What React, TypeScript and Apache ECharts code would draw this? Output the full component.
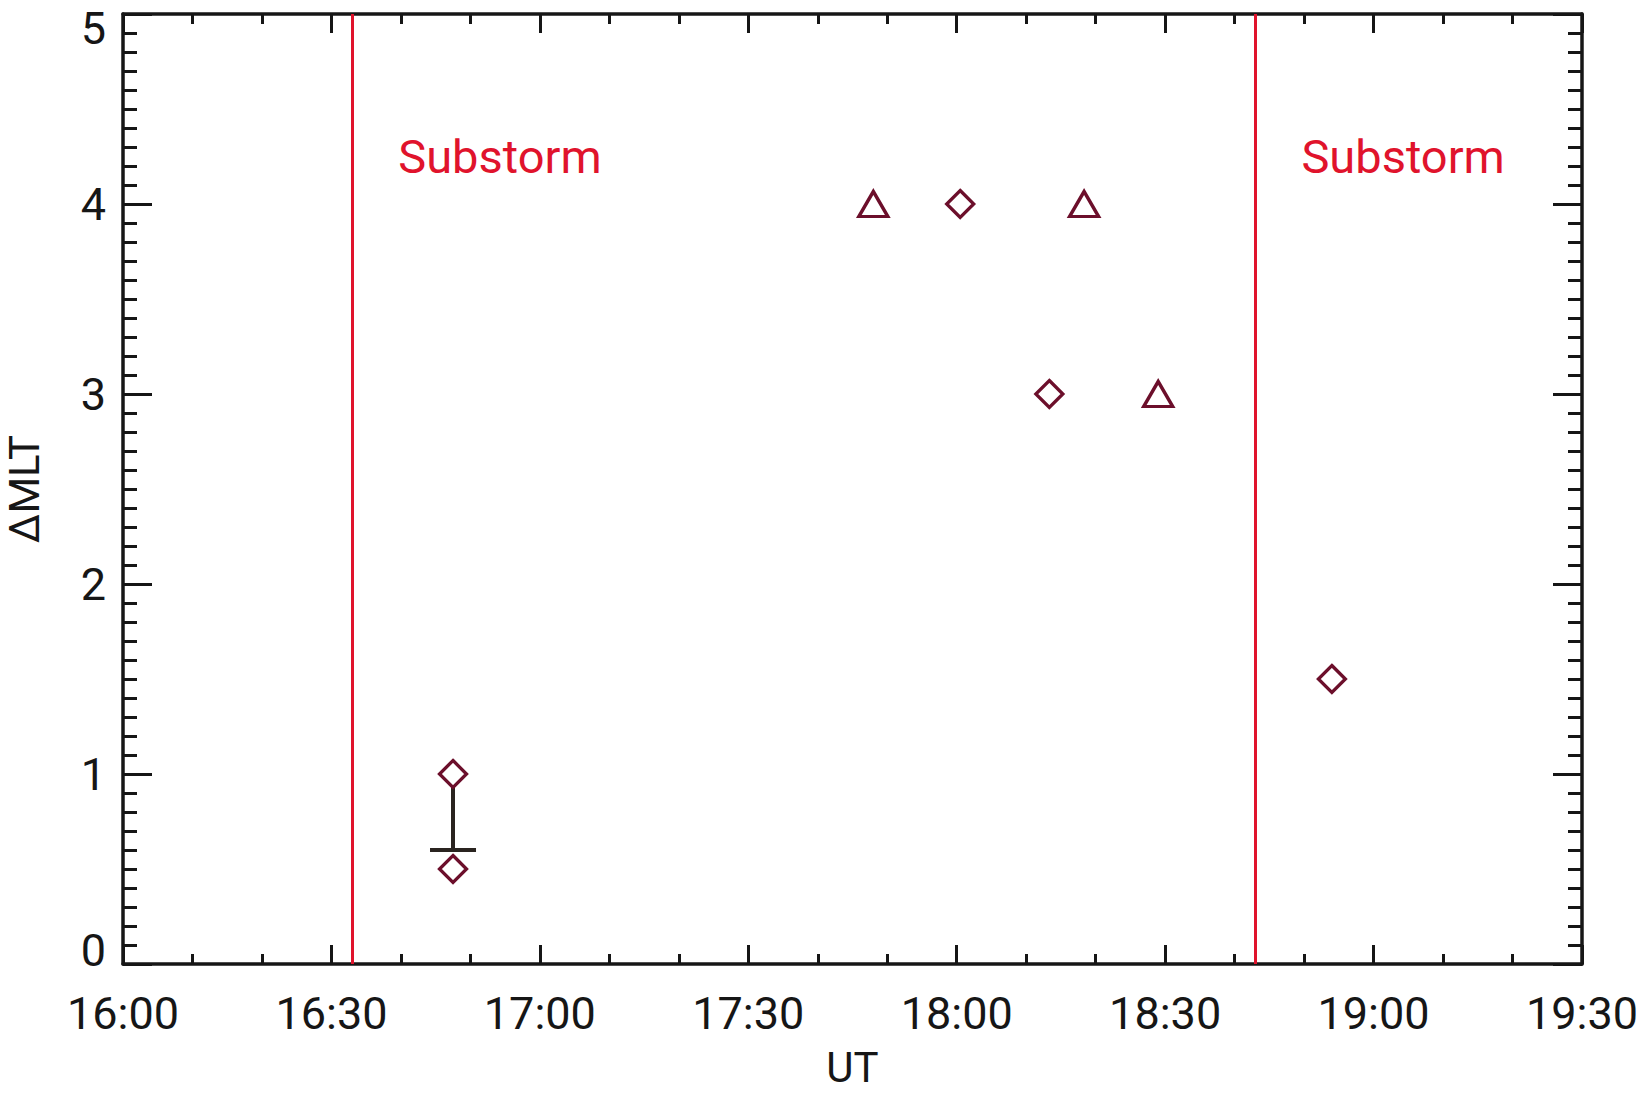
import React, { useEffect, useRef } from "react";
import * as echarts from "echarts";

// ---- data ----
const diamondTimes = ["16:47:30", "16:47:30", "18:00:30", "18:13:20", "18:54:00"];
const diamondValues = [1.0, 0.5, 4.0, 3.0, 1.5];
const triangleTimes = ["17:48:00", "18:18:20", "18:29:00"];
const triangleValues = [4.0, 4.0, 3.0];
const errorBarTimes = ["16:47:30"];
const errorBarLow = [0.6];
const errorBarHigh = [1.0];
const substormTimes = ["16:33:00", "18:43:00"];
const substormLabels = ["Substorm", "Substorm"];
const substormLabelValue = 4.25;
const xStart = "16:00:00";
const xEnd = "19:30:00";
const xTickStepMinutes = 30;
const yMin = 0;
const yMax = 5;

const toMin = (s: string) => {
  const p = s.split(":").map(Number);
  return p[0] * 60 + p[1] + (p[2] || 0) / 60;
};
const fmt = (v: number) => {
  const h = Math.floor(v / 60);
  const m = Math.round(v - h * 60);
  return `${h}:${m < 10 ? "0" + m : m}`;
};

const INK = "#161616";
const MAROON = "#6c0f2b";
const RED = "#e0132c";
const FONT = "Roboto";

export default function App() {
  const ref = useRef<HTMLDivElement>(null);
  useEffect(() => {
    if (!ref.current) return;
    const chart = echarts.init(ref.current, undefined, { renderer: "svg" });
    const xMin = toMin(xStart);
    const xMax = toMin(xEnd);

    const commonX = {
      type: "value" as const,
      min: xMin,
      max: xMax,
      interval: xTickStepMinutes,
      axisLine: { show: true, onZero: false, lineStyle: { color: INK, width: 3.5 } },
      axisTick: { show: true, inside: true, length: 19, lineStyle: { color: INK, width: 3 } },
      minorTick: { show: true, splitNumber: 3, length: 10, lineStyle: { color: INK, width: 3 } },
      splitLine: { show: false },
      minorSplitLine: { show: false },
    };
    const commonY = {
      type: "value" as const,
      min: yMin,
      max: yMax,
      interval: 1,
      axisLine: { show: true, onZero: false, lineStyle: { color: INK, width: 3.5 } },
      axisTick: { show: true, inside: true, length: 29, lineStyle: { color: INK, width: 3 } },
      minorTick: { show: true, splitNumber: 10, length: 14, lineStyle: { color: INK, width: 3 } },
      splitLine: { show: false },
      minorSplitLine: { show: false },
    };

    chart.setOption({
      animation: false,
      backgroundColor: "#ffffff",
      grid: {
        left: 123,
        right: 67,
        top: 14,
        bottom: 131,
        containLabel: false,
        outerBoundsMode: "none",
      },
      xAxis: [
        {
          ...commonX,
          position: "bottom",
          axisLabel: {
            show: true,
            fontSize: 45,
            fontFamily: FONT,
            color: INK,
            margin: 27,
            formatter: (v: number) => fmt(v),
          },
          name: "UT",
          nameLocation: "middle",
          nameGap: 82,
          nameTextStyle: { fontSize: 42, fontFamily: FONT, color: INK },
        },
        { ...commonX, position: "top", axisLabel: { show: false } },
      ],
      yAxis: [
        {
          ...commonY,
          position: "left",
          axisLabel: {
            show: true,
            fontSize: 45,
            lineHeight: 28,
            fontFamily: FONT,
            color: INK,
            margin: 17,
            verticalAlignMinLabel: "bottom",
            verticalAlignMaxLabel: "top",
          },
          name: "ΔMLT",
          nameLocation: "middle",
          nameRotate: 90,
          nameGap: 78,
          nameTextStyle: { fontSize: 42, fontFamily: FONT, color: INK },
        },
        { ...commonY, position: "right", axisLabel: { show: false } },
      ],
      series: [
        {
          type: "scatter",
          data: [],
          markLine: {
            silent: true,
            symbol: "none",
            label: { show: false },
            lineStyle: { color: RED, width: 3, type: "solid", opacity: 1 },
            data: substormTimes.map((t) => ({ xAxis: toMin(t) })),
          },
          z: 1,
        },
        {
          type: "scatter",
          symbolSize: 0,
          itemStyle: { opacity: 1 },
          data: substormTimes.map((t, i) => ({
            value: [toMin(t), substormLabelValue],
            name: substormLabels[i],
          })),
          label: {
            show: true,
            position: "right",
            distance: 46,
            formatter: (p: any) => p.name,
            fontSize: 47,
            fontFamily: FONT,
            color: RED,
            opacity: 1,
          },
          z: 2,
        },
        {
          type: "custom",
          data: errorBarTimes.map((t, i) => [toMin(t), errorBarLow[i], errorBarHigh[i]]),
          renderItem: (params: any, api: any) => {
            const x = api.value(0);
            const lo = api.coord([x, api.value(1)]);
            const hi = api.coord([x, api.value(2)]);
            const half = 23;
            return {
              type: "group",
              children: [
                {
                  type: "line",
                  shape: { x1: lo[0], y1: lo[1], x2: hi[0], y2: hi[1] },
                  style: { stroke: "#2a2420", lineWidth: 4 },
                },
                {
                  type: "line",
                  shape: { x1: lo[0] - half, y1: lo[1], x2: lo[0] + half, y2: lo[1] },
                  style: { stroke: "#2a2420", lineWidth: 4 },
                },
              ],
            };
          },
          z: 3,
        },
        {
          type: "scatter",
          symbol: "diamond",
          symbolSize: 27,
          data: diamondTimes.map((t, i) => [toMin(t), diamondValues[i]]),
          itemStyle: { color: "#ffffff", borderColor: MAROON, borderWidth: 3.3, opacity: 1 },
          z: 5,
        },
        {
          type: "scatter",
          symbol: "triangle",
          symbolSize: [29, 25],
          data: triangleTimes.map((t, i) => [toMin(t), triangleValues[i]]),
          itemStyle: { color: "#ffffff", borderColor: MAROON, borderWidth: 3.3, opacity: 1 },
          z: 5,
        },
      ],
    });
    return () => chart.dispose();
  }, []);
  return (
    <div
      ref={ref}
      style={{ position: "fixed", left: 0, top: 0, width: 1649, height: 1095, background: "#fff" }}
    />
  );
}
